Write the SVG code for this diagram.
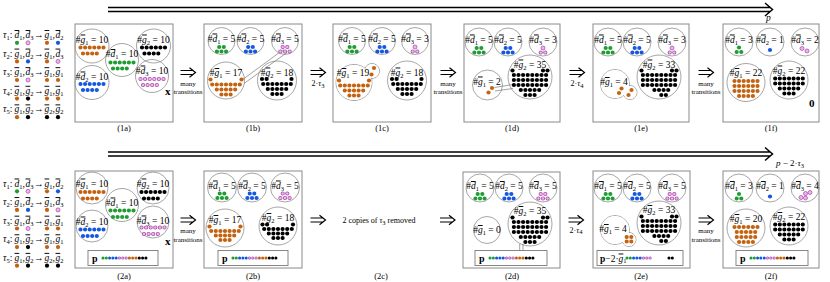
<svg xmlns="http://www.w3.org/2000/svg" width="830" height="282" viewBox="0 0 830 282">
<style>
.bx{fill:#fff;stroke:#8a8a8a;stroke-width:1}
.pb{fill:#fff;stroke:#7a7a7a;stroke-width:.9}
.c{fill:none;stroke:#8f8f8f;stroke-width:.8}
.wf{fill:#fff}
.ln{fill:none;stroke:#7a7a7a;stroke-width:.7}
text{font-family:"Liberation Serif",serif;fill:#000}
.t{font-size:9.5px;text-anchor:middle}
.lg{font-size:9.5px}
.sm{font-size:7px;text-anchor:middle}
.tl{font-size:8px;text-anchor:middle}
.lb{font-size:8.5px;text-anchor:middle}
.i{font-style:italic}
.ov{font-style:italic;text-decoration:overline}
.s{font-size:6.5px}
.bo{font-weight:bold;font-size:11px}
.d{fill:none;stroke-linecap:round;stroke-dasharray:0 4.6;stroke-width:4.2}
.q{fill:none;stroke-linecap:round;stroke-dasharray:0 3.3;stroke-width:3.1}
.G{stroke:#1f9d33}.B{stroke:#1657e0}.O{stroke:#c5620f}.K{stroke:#000}.P{stroke:#a84ca8}
.Pi{stroke:#f0b4f0}.d.Pi{stroke-width:2.6}.q.Pi{stroke-width:1.7}
.fG{fill:#1f9d33}.fB{fill:#1657e0}.fO{fill:#c5620f}.fK{fill:#000}.fP{fill:#f0b4f0;stroke:#a84ca8;stroke-width:.75}
.ar{fill:none;stroke:#000;stroke-width:1.5}
.im{fill:none;stroke:#000;stroke-width:1.2}
</style>
<defs>
<g id="imp"><path class="im" d="M-7.5 -2H5M-7.5 2H5M1.5 -4.8L7.5 0L1.5 4.8"/></g>
</defs>

<g id="legend1">
<text class="lg"><tspan x="3" y="38" class="i">τ</tspan><tspan y="40" class="s">1</tspan><tspan y="38">:</tspan><tspan x="14.5" class="ov">d</tspan><tspan y="40" class="s">1</tspan><tspan y="38">,</tspan><tspan x="25.5" class="ov">d</tspan><tspan y="40" class="s">3</tspan><tspan x="34" y="38">→</tspan><tspan x="44.5" class="ov">g</tspan><tspan y="40" class="s">1</tspan><tspan y="38">,</tspan><tspan x="55.5" class="ov">d</tspan><tspan y="40" class="s">2</tspan></text>
<text class="lg"><tspan x="3" y="56.6" class="i">τ</tspan><tspan y="58.6" class="s">2</tspan><tspan y="56.6">:</tspan><tspan x="14.5" class="ov">g</tspan><tspan y="58.6" class="s">1</tspan><tspan y="56.6">,</tspan><tspan x="25.5" class="ov">d</tspan><tspan y="58.6" class="s">2</tspan><tspan x="34" y="56.6">→</tspan><tspan x="44.5" class="ov">g</tspan><tspan y="58.6" class="s">1</tspan><tspan y="56.6">,</tspan><tspan x="55.5" class="ov">d</tspan><tspan y="58.6" class="s">3</tspan></text>
<text class="lg"><tspan x="3" y="75.2" class="i">τ</tspan><tspan y="77.2" class="s">3</tspan><tspan y="75.2">:</tspan><tspan x="14.5" class="ov">g</tspan><tspan y="77.2" class="s">1</tspan><tspan y="75.2">,</tspan><tspan x="25.5" class="ov">d</tspan><tspan y="77.2" class="s">3</tspan><tspan x="34" y="75.2">→</tspan><tspan x="44.5" class="ov">g</tspan><tspan y="77.2" class="s">1</tspan><tspan y="75.2">,</tspan><tspan x="55.5" class="ov">g</tspan><tspan y="77.2" class="s">1</tspan></text>
<text class="lg"><tspan x="3" y="93.8" class="i">τ</tspan><tspan y="95.8" class="s">4</tspan><tspan y="93.8">:</tspan><tspan x="14.5" class="ov">g</tspan><tspan y="95.8" class="s">1</tspan><tspan y="93.8">,</tspan><tspan x="25.5" class="ov">g</tspan><tspan y="95.8" class="s">2</tspan><tspan x="34" y="93.8">→</tspan><tspan x="44.5" class="ov">g</tspan><tspan y="95.8" class="s">1</tspan><tspan y="93.8">,</tspan><tspan x="55.5" class="ov">g</tspan><tspan y="95.8" class="s">1</tspan></text>
<text class="lg"><tspan x="3" y="112.4" class="i">τ</tspan><tspan y="114.4" class="s">5</tspan><tspan y="112.4">:</tspan><tspan x="14.5" class="ov">g</tspan><tspan y="114.4" class="s">1</tspan><tspan y="112.4">,</tspan><tspan x="25.5" class="ov">g</tspan><tspan y="114.4" class="s">2</tspan><tspan x="34" y="112.4">→</tspan><tspan x="44.5" class="ov">g</tspan><tspan y="114.4" class="s">2</tspan><tspan y="112.4">,</tspan><tspan x="55.5" class="ov">g</tspan><tspan y="114.4" class="s">2</tspan></text>
<circle class="fG" cx="17" cy="42.8" r="2.1"/><circle class="fP" cx="28" cy="42.8" r="2"/><circle class="fO" cx="47" cy="42.8" r="2.1"/><circle class="fB" cx="58" cy="42.8" r="2.1"/>
<circle class="fO" cx="17" cy="61.4" r="2.1"/><circle class="fB" cx="28" cy="61.4" r="2.1"/><circle class="fO" cx="47" cy="61.4" r="2.1"/><circle class="fP" cx="58" cy="61.4" r="2"/>
<circle class="fO" cx="17" cy="80" r="2.1"/><circle class="fP" cx="28" cy="80" r="2"/><circle class="fO" cx="47" cy="80" r="2.1"/><circle class="fO" cx="58" cy="80" r="2.1"/>
<circle class="fO" cx="17" cy="98.6" r="2.1"/><circle class="fK" cx="28" cy="98.6" r="2.1"/><circle class="fO" cx="47" cy="98.6" r="2.1"/><circle class="fO" cx="58" cy="98.6" r="2.1"/>
<circle class="fO" cx="17" cy="117.2" r="2.1"/><circle class="fK" cx="28" cy="117.2" r="2.1"/><circle class="fK" cx="47" cy="117.2" r="2.1"/><circle class="fK" cx="58" cy="117.2" r="2.1"/>
</g>

<g id="legend2">
<text class="lg"><tspan x="3" y="186.5" class="i">τ</tspan><tspan y="188.5" class="s">1</tspan><tspan y="186.5">:</tspan><tspan x="14.5" class="ov">d</tspan><tspan y="188.5" class="s">1</tspan><tspan y="186.5">,</tspan><tspan x="25.5" class="ov">d</tspan><tspan y="188.5" class="s">3</tspan><tspan x="34" y="186.5">→</tspan><tspan x="44.5" class="ov">g</tspan><tspan y="188.5" class="s">1</tspan><tspan y="186.5">,</tspan><tspan x="55.5" class="ov">d</tspan><tspan y="188.5" class="s">2</tspan></text>
<text class="lg"><tspan x="3" y="205.1" class="i">τ</tspan><tspan y="207.1" class="s">2</tspan><tspan y="205.1">:</tspan><tspan x="14.5" class="ov">g</tspan><tspan y="207.1" class="s">1</tspan><tspan y="205.1">,</tspan><tspan x="25.5" class="ov">d</tspan><tspan y="207.1" class="s">2</tspan><tspan x="34" y="205.1">→</tspan><tspan x="44.5" class="ov">g</tspan><tspan y="207.1" class="s">1</tspan><tspan y="205.1">,</tspan><tspan x="55.5" class="ov">d</tspan><tspan y="207.1" class="s">3</tspan></text>
<text class="lg"><tspan x="3" y="223.7" class="i">τ</tspan><tspan y="225.7" class="s">3</tspan><tspan y="223.7">:</tspan><tspan x="14.5" class="ov">g</tspan><tspan y="225.7" class="s">1</tspan><tspan y="223.7">,</tspan><tspan x="25.5" class="ov">d</tspan><tspan y="225.7" class="s">3</tspan><tspan x="34" y="223.7">→</tspan><tspan x="44.5" class="ov">g</tspan><tspan y="225.7" class="s">1</tspan><tspan y="223.7">,</tspan><tspan x="55.5" class="ov">g</tspan><tspan y="225.7" class="s">1</tspan></text>
<text class="lg"><tspan x="3" y="242.3" class="i">τ</tspan><tspan y="244.3" class="s">4</tspan><tspan y="242.3">:</tspan><tspan x="14.5" class="ov">g</tspan><tspan y="244.3" class="s">1</tspan><tspan y="242.3">,</tspan><tspan x="25.5" class="ov">g</tspan><tspan y="244.3" class="s">2</tspan><tspan x="34" y="242.3">→</tspan><tspan x="44.5" class="ov">g</tspan><tspan y="244.3" class="s">1</tspan><tspan y="242.3">,</tspan><tspan x="55.5" class="ov">g</tspan><tspan y="244.3" class="s">1</tspan></text>
<text class="lg"><tspan x="3" y="260.9" class="i">τ</tspan><tspan y="262.9" class="s">5</tspan><tspan y="260.9">:</tspan><tspan x="14.5" class="ov">g</tspan><tspan y="262.9" class="s">1</tspan><tspan y="260.9">,</tspan><tspan x="25.5" class="ov">g</tspan><tspan y="262.9" class="s">2</tspan><tspan x="34" y="260.9">→</tspan><tspan x="44.5" class="ov">g</tspan><tspan y="262.9" class="s">2</tspan><tspan y="260.9">,</tspan><tspan x="55.5" class="ov">g</tspan><tspan y="262.9" class="s">2</tspan></text>
<circle class="fG" cx="17" cy="191.3" r="2.1"/><circle class="fP" cx="28" cy="191.3" r="2"/><circle class="fO" cx="47" cy="191.3" r="2.1"/><circle class="fB" cx="58" cy="191.3" r="2.1"/>
<circle class="fO" cx="17" cy="209.9" r="2.1"/><circle class="fB" cx="28" cy="209.9" r="2.1"/><circle class="fO" cx="47" cy="209.9" r="2.1"/><circle class="fP" cx="58" cy="209.9" r="2"/>
<circle class="fO" cx="17" cy="228.5" r="2.1"/><circle class="fP" cx="28" cy="228.5" r="2"/><circle class="fO" cx="47" cy="228.5" r="2.1"/><circle class="fO" cx="58" cy="228.5" r="2.1"/>
<circle class="fO" cx="17" cy="247.1" r="2.1"/><circle class="fK" cx="28" cy="247.1" r="2.1"/><circle class="fO" cx="47" cy="247.1" r="2.1"/><circle class="fO" cx="58" cy="247.1" r="2.1"/>
<circle class="fO" cx="17" cy="265.7" r="2.1"/><circle class="fK" cx="28" cy="265.7" r="2.1"/><circle class="fK" cx="47" cy="265.7" r="2.1"/><circle class="fK" cx="58" cy="265.7" r="2.1"/>
</g>

<g id="n1a">
<rect class="bx" x="75" y="24" width="98" height="98"/>
<circle class="c" cx="92" cy="46" r="17"/><circle class="c" cx="153.5" cy="46" r="17"/><circle class="c" cx="122" cy="60" r="16.5"/><circle class="c" cx="92" cy="82.5" r="17"/><circle class="c" cx="152" cy="76" r="16.5"/>
<text class="t" x="92" y="42.5">#<tspan class="ov">g</tspan><tspan class="s" dy="2">1</tspan><tspan dy="-2"> = 10</tspan></text>
<text class="t" x="153.5" y="42.5">#<tspan class="ov">g</tspan><tspan class="s" dy="2">2</tspan><tspan dy="-2"> = 10</tspan></text>
<text class="t" x="122" y="57">#<tspan class="ov">d</tspan><tspan class="s" dy="2">1</tspan><tspan dy="-2"> = 10</tspan></text>
<text class="t" x="92" y="79.5">#<tspan class="ov">d</tspan><tspan class="s" dy="2">2</tspan><tspan dy="-2"> = 10</tspan></text>
<text class="t" x="152" y="73.5">#<tspan class="ov">d</tspan><tspan class="s" dy="2">3</tspan><tspan dy="-2"> = 10</tspan></text>
<path class="d O" d="M80.5 47.5h23.05M83 53.5h13.85"/>
<path class="d K" d="M142 47.5h23.05M144.5 53.5h13.85"/>
<path class="d G" d="M110.5 62.5h23.05M113 68.5h13.85"/>
<path class="d B" d="M80.5 84h23.05M83 90h13.85"/>
<path class="d P" d="M140.5 79h23.05M143 85h13.85"/><path class="d Pi" d="M140.5 79h23.05M143 85h13.85"/>
<text class="bo" x="165" y="95">x</text>
<text class="lb" x="124" y="131">(1a)</text>
</g>

<g id="n1b">
<rect class="bx" x="204" y="24" width="98" height="98"/>
<circle class="c" cx="221.5" cy="41" r="13.5"/><circle class="c" cx="250.5" cy="41" r="13.5"/><circle class="c" cx="285" cy="41" r="13.5"/><circle class="c" cx="226" cy="80.5" r="18.5"/><circle class="c" cx="277" cy="80.5" r="19.5"/>
<path class="ln" d="M242 80L283.5 49.5M244 83.5L287 52.5"/>
<text class="t" x="221.5" y="41.5">#<tspan class="ov">d</tspan><tspan class="s" dy="2">1</tspan><tspan dy="-2"> = 5</tspan></text>
<text class="t" x="250.5" y="41.5">#<tspan class="ov">d</tspan><tspan class="s" dy="2">2</tspan><tspan dy="-2"> = 5</tspan></text>
<text class="t" x="285" y="41.5">#<tspan class="ov">d</tspan><tspan class="s" dy="2">3</tspan><tspan dy="-2"> = 5</tspan></text>
<text class="t" x="226" y="76">#<tspan class="ov">g</tspan><tspan class="s" dy="2">1</tspan><tspan dy="-2"> = 17</tspan></text>
<text class="t" x="277" y="75.5">#<tspan class="ov">g</tspan><tspan class="s" dy="2">2</tspan><tspan dy="-2"> = 18</tspan></text>
<path class="d G" d="M219.2 47h4.65M216.9 51.5h9.25"/>
<path class="d B" d="M248.2 47h4.65M245.9 51.5h9.25"/>
<path class="d P" d="M282.7 47h4.65M280.4 51.5h9.25"/><path class="d Pi" d="M282.7 47h4.65M280.4 51.5h9.25"/>
<circle class="fO" cx="210.5" cy="79.5" r="2.1"/><circle class="fO" cx="241.5" cy="79.5" r="2.1"/>
<path class="d O" d="M212.2 84.5h27.65M216.8 89.5h18.45M221.4 94.5h9.25"/>
<circle class="fK" cx="262" cy="79" r="2.1"/><circle class="fK" cx="266.6" cy="79" r="2.1"/><circle class="fK" cx="291.5" cy="79" r="2.1"/>
<path class="d K" d="M263.2 84h27.65M267.8 89h18.45M272.4 94h9.25"/>
<text class="lb" x="253" y="131">(1b)</text>
</g>

<g id="n1c">
<rect class="bx" x="333" y="24" width="98" height="98"/>
<circle class="c" cx="352" cy="41" r="13.5"/><circle class="c" cx="382" cy="41" r="13.5"/><circle class="c" cx="415" cy="41" r="13.5"/><circle class="c" cx="407" cy="80.5" r="19.5"/>
<circle class="c" cx="354" cy="82.5" r="18"/><circle class="c" cx="372" cy="71" r="7.5"/><circle class="wf" cx="354" cy="82.5" r="17.6"/><circle class="wf" cx="372" cy="71" r="7.1"/>
<text class="t" x="352" y="41.5">#<tspan class="ov">d</tspan><tspan class="s" dy="2">1</tspan><tspan dy="-2"> = 5</tspan></text>
<text class="t" x="382" y="41.5">#<tspan class="ov">d</tspan><tspan class="s" dy="2">2</tspan><tspan dy="-2"> = 5</tspan></text>
<text class="t" x="415" y="41.5">#<tspan class="ov">d</tspan><tspan class="s" dy="2">3</tspan><tspan dy="-2"> = 3</tspan></text>
<text class="t" x="353" y="76">#<tspan class="ov">g</tspan><tspan class="s" dy="2">1</tspan><tspan dy="-2"> = 19</tspan></text>
<text class="t" x="407" y="75.5">#<tspan class="ov">g</tspan><tspan class="s" dy="2">2</tspan><tspan dy="-2"> = 18</tspan></text>
<path class="d G" d="M349.7 47h4.65M347.4 51.5h9.25"/>
<path class="d B" d="M379.7 47h4.65M377.4 51.5h9.25"/>
<circle class="fP" cx="415" cy="47" r="2"/><path class="d P" d="M412.7 51.5h4.65"/><path class="d Pi" d="M412.7 51.5h4.65"/>
<circle class="fO" cx="374" cy="68" r="2.1"/><circle class="fO" cx="371.5" cy="74.5" r="2.1"/><circle class="fO" cx="339" cy="80.5" r="2.1"/><circle class="fO" cx="369" cy="80.5" r="2.1"/>
<path class="d O" d="M340.2 85.5h27.65M344.8 90.5h18.45M349.4 95.5h9.25"/>
<circle class="fK" cx="392" cy="79" r="2.1"/><circle class="fK" cx="396.6" cy="79" r="2.1"/><circle class="fK" cx="421.5" cy="79" r="2.1"/>
<path class="d K" d="M393.2 84h27.65M397.8 89h18.45M402.4 94h9.25"/>
<text class="lb" x="382" y="131">(1c)</text>
</g>

<g id="n1d">
<rect class="bx" x="464" y="24" width="96" height="98"/>
<circle class="c" cx="479" cy="42" r="14"/><circle class="c" cx="508" cy="42" r="14"/><circle class="c" cx="543" cy="42" r="14"/><circle class="c" cx="487.5" cy="85" r="15"/><circle class="c" cx="530" cy="77" r="22"/>
<path class="ln" d="M494.5 87.5L513 84.5M495 91L513 88.5"/>
<text class="t" x="479" y="42.5">#<tspan class="ov">d</tspan><tspan class="s" dy="2">1</tspan><tspan dy="-2"> = 5</tspan></text>
<text class="t" x="508" y="42.5">#<tspan class="ov">d</tspan><tspan class="s" dy="2">2</tspan><tspan dy="-2"> = 5</tspan></text>
<text class="t" x="543" y="42.5">#<tspan class="ov">d</tspan><tspan class="s" dy="2">3</tspan><tspan dy="-2"> = 3</tspan></text>
<text class="t" x="487" y="84.5">#<tspan class="ov">g</tspan><tspan class="s" dy="2">1</tspan><tspan dy="-2"> = 2</tspan></text>
<text class="t" x="530" y="67.5">#<tspan class="ov">g</tspan><tspan class="s" dy="2">2</tspan><tspan dy="-2"> = 35</tspan></text>
<path class="d G" d="M476.7 48h4.65M474.4 52.5h9.25"/>
<path class="d B" d="M505.7 48h4.65M503.4 52.5h9.25"/>
<circle class="fP" cx="543" cy="48" r="2"/><path class="d P" d="M540.7 52.5h4.65"/><path class="d Pi" d="M540.7 52.5h4.65"/>
<circle class="fO" cx="492" cy="88" r="2.1"/><circle class="fO" cx="488.5" cy="92.5" r="2.1"/>
<circle class="fK" cx="512.5" cy="70.5" r="2.1"/><circle class="fK" cx="543" cy="70.5" r="2.1"/><circle class="fK" cx="547.5" cy="70.5" r="2.1"/>
<path class="d K" d="M513.9 75h32.25M513.9 80h32.25M513.9 85h32.25M520.8 90h18.45M525.4 95h9.25"/>
<text class="lb" x="512" y="131">(1d)</text>
</g>

<g id="n1e">
<rect class="bx" x="593" y="24" width="96" height="98"/>
<circle class="c" cx="608" cy="42" r="14"/><circle class="c" cx="637" cy="42" r="14"/><circle class="c" cx="672" cy="42" r="14"/><circle class="c" cx="659" cy="77" r="22"/>
<circle class="c" cx="615" cy="84" r="14.5"/><circle class="c" cx="630" cy="92.5" r="7"/><circle class="wf" cx="615" cy="84" r="14.1"/><circle class="wf" cx="630" cy="92.5" r="6.6"/>
<text class="t" x="608" y="42.5">#<tspan class="ov">d</tspan><tspan class="s" dy="2">1</tspan><tspan dy="-2"> = 5</tspan></text>
<text class="t" x="637" y="42.5">#<tspan class="ov">d</tspan><tspan class="s" dy="2">2</tspan><tspan dy="-2"> = 5</tspan></text>
<text class="t" x="672" y="42.5">#<tspan class="ov">d</tspan><tspan class="s" dy="2">3</tspan><tspan dy="-2"> = 3</tspan></text>
<text class="t" x="614" y="85">#<tspan class="ov">g</tspan><tspan class="s" dy="2">1</tspan><tspan dy="-2"> = 4</tspan></text>
<text class="t" x="659" y="67.5">#<tspan class="ov">g</tspan><tspan class="s" dy="2">2</tspan><tspan dy="-2"> = 33</tspan></text>
<path class="d G" d="M605.7 48h4.65M603.4 52.5h9.25"/>
<path class="d B" d="M634.7 48h4.65M632.4 52.5h9.25"/>
<circle class="fP" cx="672" cy="48" r="2"/><path class="d P" d="M669.7 52.5h4.65"/><path class="d Pi" d="M669.7 52.5h4.65"/>
<circle class="fO" cx="621.5" cy="88.5" r="2.1"/><circle class="fO" cx="619" cy="93" r="2.1"/><circle class="fO" cx="631.5" cy="90" r="2.1"/><circle class="fO" cx="628.5" cy="95" r="2.1"/>
<circle class="fK" cx="641.5" cy="70.5" r="2.1"/><circle class="fK" cx="672" cy="70.5" r="2.1"/><circle class="fK" cx="676.5" cy="70.5" r="2.1"/>
<path class="d K" d="M642.9 75h32.25M642.9 80h32.25M642.9 85h32.25M654.4 90h13.85M661.3 95h4.65"/>
<text class="lb" x="641" y="131">(1e)</text>
</g>

<g id="n1f">
<rect class="bx" x="723" y="24" width="96" height="98"/>
<circle class="c" cx="739" cy="42" r="14"/><circle class="c" cx="770" cy="42" r="14"/><circle class="c" cx="805" cy="42" r="14"/><circle class="c" cx="746" cy="82.5" r="19"/><circle class="c" cx="789" cy="80" r="19"/>
<text class="t" x="739" y="42.5">#<tspan class="ov">d</tspan><tspan class="s" dy="2">1</tspan><tspan dy="-2"> = 3</tspan></text>
<text class="t" x="770" y="42.5">#<tspan class="ov">d</tspan><tspan class="s" dy="2">2</tspan><tspan dy="-2"> = 1</tspan></text>
<text class="t" x="805" y="42.5">#<tspan class="ov">d</tspan><tspan class="s" dy="2">3</tspan><tspan dy="-2"> = 2</tspan></text>
<text class="t" x="746" y="76">#<tspan class="ov">g</tspan><tspan class="s" dy="2">1</tspan><tspan dy="-2"> = 22</tspan></text>
<text class="t" x="789" y="73.5">#<tspan class="ov">g</tspan><tspan class="s" dy="2">2</tspan><tspan dy="-2"> = 22</tspan></text>
<circle class="fG" cx="739" cy="47.5" r="2.1"/><path class="d G" d="M736.7 52h4.65"/>
<circle class="fB" cx="770" cy="50" r="2.1"/>
<circle class="fP" cx="802" cy="48.5" r="2"/><circle class="fP" cx="807" cy="51" r="2"/>
<path class="d O" d="M734.5 81h23.05M734.5 86h23.05M734.5 91h23.05M739.1 96h13.85"/>
<path class="d K" d="M775.2 78.5h27.65M775.2 83.5h27.65M779.8 88.5h18.45M784.4 93.5h9.25"/>
<text class="bo" x="809" y="107">0</text>
<text class="lb" x="771" y="131">(1f)</text>
</g>

<g id="n2a">
<rect class="bx" x="75" y="171" width="98" height="97"/>
<circle class="c" cx="92" cy="188" r="16"/><circle class="c" cx="153" cy="188" r="16"/><circle class="c" cx="122" cy="205" r="16.5"/><circle class="c" cx="92" cy="226" r="16"/><circle class="c" cx="153" cy="222" r="16"/>
<text class="t" x="92" y="186.5">#<tspan class="ov">g</tspan><tspan class="s" dy="2">1</tspan><tspan dy="-2"> = 10</tspan></text>
<text class="t" x="153" y="186.5">#<tspan class="ov">g</tspan><tspan class="s" dy="2">2</tspan><tspan dy="-2"> = 10</tspan></text>
<text class="t" x="122" y="205.5">#<tspan class="ov">d</tspan><tspan class="s" dy="2">1</tspan><tspan dy="-2"> = 10</tspan></text>
<text class="t" x="92" y="224.5">#<tspan class="ov">d</tspan><tspan class="s" dy="2">2</tspan><tspan dy="-2"> = 10</tspan></text>
<text class="t" x="153" y="223.5">#<tspan class="ov">d</tspan><tspan class="s" dy="2">3</tspan><tspan dy="-2"> = 10</tspan></text>
<path class="d O" d="M80.5 192h23.05M83 198.5h13.85"/>
<path class="d K" d="M141.5 192h23.05M144 198.5h13.85"/>
<path class="d G" d="M110.5 210.5h23.05M113 217h13.85"/>
<path class="d B" d="M80.5 229.5h23.05M83 236h13.85"/>
<path class="d P" d="M141.5 227.5h23.05M144 234h13.85"/><path class="d Pi" d="M141.5 227.5h23.05M144 234h13.85"/>
<text class="bo" x="165" y="245">x</text>
<rect class="pb" x="88" y="250.5" width="70" height="15"/>
<text class="bo" x="92" y="261.5" style="font-size:10px">p</text>
<path class="q G" d="M103 258h3.35"/><path class="q B" d="M109.6 258h6.65"/><path class="q P" d="M119.5 258h6.65"/><path class="q Pi" d="M119.5 258h6.65"/><path class="q O" d="M129.4 258h6.65"/><path class="q K" d="M139.3 258h6.65"/>
<text class="lb" x="124" y="279">(2a)</text>
</g>

<g id="n2b">
<rect class="bx" x="204" y="171" width="98" height="97"/>
<circle class="c" cx="222" cy="187.5" r="14.5"/><circle class="c" cx="252" cy="187.5" r="14.5"/><circle class="c" cx="285" cy="187.5" r="14.5"/><circle class="c" cx="225" cy="228" r="19"/><circle class="c" cx="278" cy="226" r="19"/>
<text class="t" x="222" y="188.5">#<tspan class="ov">d</tspan><tspan class="s" dy="2">1</tspan><tspan dy="-2"> = 5</tspan></text>
<text class="t" x="252" y="188.5">#<tspan class="ov">d</tspan><tspan class="s" dy="2">2</tspan><tspan dy="-2"> = 5</tspan></text>
<text class="t" x="285" y="188.5">#<tspan class="ov">d</tspan><tspan class="s" dy="2">3</tspan><tspan dy="-2"> = 5</tspan></text>
<text class="t" x="225" y="223">#<tspan class="ov">g</tspan><tspan class="s" dy="2">1</tspan><tspan dy="-2"> = 17</tspan></text>
<text class="t" x="278" y="221">#<tspan class="ov">g</tspan><tspan class="s" dy="2">2</tspan><tspan dy="-2"> = 18</tspan></text>
<path class="d G" d="M219.7 193.5h4.65M217.4 198h9.25"/>
<path class="d B" d="M249.7 193.5h4.65M247.4 198h9.25"/>
<path class="d P" d="M282.7 193.5h4.65M280.4 198h9.25"/><path class="d Pi" d="M282.7 193.5h4.65M280.4 198h9.25"/>
<circle class="fO" cx="209.5" cy="226.5" r="2.1"/><circle class="fO" cx="240.5" cy="226.5" r="2.1"/>
<path class="d O" d="M211.2 231h27.65M215.8 235.5h18.45M220.4 240h9.25"/>
<circle class="fK" cx="262.5" cy="224.5" r="2.1"/><circle class="fK" cx="267.1" cy="224.5" r="2.1"/><circle class="fK" cx="293" cy="224.5" r="2.1"/>
<path class="d K" d="M264.2 229h27.65M268.8 233.5h18.45M273.4 238h9.25"/>
<rect class="pb" x="218" y="250.5" width="70" height="15"/>
<text class="bo" x="222" y="261.5" style="font-size:10px">p</text>
<path class="q G" d="M233 258h3.35"/><path class="q B" d="M239.6 258h6.65"/><path class="q P" d="M249.5 258h6.65"/><path class="q Pi" d="M249.5 258h6.65"/><path class="q O" d="M259.4 258h6.65"/><path class="q K" d="M269.3 258h6.65"/>
<text class="lb" x="253" y="279">(2b)</text>
</g>

<g id="n2c">
<text class="tl" x="379" y="223">2 copies of <tspan class="i">τ</tspan><tspan class="s" dy="1.5">3</tspan><tspan dy="-1.5"> removed</tspan></text>
<text class="lb" x="381" y="279">(2c)</text>
</g>

<g id="n2d">
<rect class="bx" x="463" y="172" width="97" height="96"/>
<circle class="c" cx="480" cy="188" r="14"/><circle class="c" cx="509" cy="188" r="14"/><circle class="c" cx="543" cy="188" r="14"/><circle class="c" cx="487" cy="230" r="13.5"/><circle class="c" cx="530" cy="224" r="22"/>
<text class="t" x="480" y="189">#<tspan class="ov">d</tspan><tspan class="s" dy="2">1</tspan><tspan dy="-2"> = 5</tspan></text>
<text class="t" x="509" y="189">#<tspan class="ov">d</tspan><tspan class="s" dy="2">2</tspan><tspan dy="-2"> = 5</tspan></text>
<text class="t" x="543" y="189">#<tspan class="ov">d</tspan><tspan class="s" dy="2">3</tspan><tspan dy="-2"> = 5</tspan></text>
<text class="t" x="487" y="233">#<tspan class="ov">g</tspan><tspan class="s" dy="2">1</tspan><tspan dy="-2"> = 0</tspan></text>
<text class="t" x="530" y="214">#<tspan class="ov">g</tspan><tspan class="s" dy="2">2</tspan><tspan dy="-2"> = 35</tspan></text>
<path class="d G" d="M477.7 194h4.65M475.4 198.5h9.25"/>
<path class="d B" d="M506.7 194h4.65M504.4 198.5h9.25"/>
<path class="d P" d="M540.7 194h4.65M538.4 198.5h9.25"/><path class="d Pi" d="M540.7 194h4.65M538.4 198.5h9.25"/>
<circle class="fK" cx="512.5" cy="217.5" r="2.1"/><circle class="fK" cx="543" cy="217.5" r="2.1"/><circle class="fK" cx="547.5" cy="217.5" r="2.1"/>
<path class="d K" d="M513.9 222h32.25M513.9 227h32.25M513.9 232h32.25M520.8 237h18.45M525.4 242h9.25"/>
<path class="ln" d="M519.7 244V256M523 244V256"/>
<rect class="pb" x="475" y="250.5" width="72" height="15"/>
<text class="bo" x="479" y="261.5" style="font-size:10px">p</text>
<path class="q G" d="M490 258h3.35"/><path class="q B" d="M496.6 258h6.65"/><path class="q P" d="M506.5 258h6.65"/><path class="q Pi" d="M506.5 258h6.65"/><path class="q O" d="M516.4 258h6.65"/><path class="q K" d="M526.3 258h6.65"/>
<text class="lb" x="512" y="279">(2d)</text>
</g>

<g id="n2e">
<rect class="bx" x="593" y="171" width="97" height="97"/>
<circle class="c" cx="608" cy="188" r="14"/><circle class="c" cx="637" cy="188" r="14"/><circle class="c" cx="672" cy="188" r="14"/><circle class="c" cx="659" cy="223" r="22"/>
<circle class="c" cx="615" cy="230" r="14.5"/><circle class="c" cx="629" cy="239.5" r="7"/><circle class="wf" cx="615" cy="230" r="14.1"/><circle class="wf" cx="629" cy="239.5" r="6.6"/>
<text class="t" x="608" y="189">#<tspan class="ov">d</tspan><tspan class="s" dy="2">1</tspan><tspan dy="-2"> = 5</tspan></text>
<text class="t" x="637" y="189">#<tspan class="ov">d</tspan><tspan class="s" dy="2">2</tspan><tspan dy="-2"> = 5</tspan></text>
<text class="t" x="672" y="189">#<tspan class="ov">d</tspan><tspan class="s" dy="2">3</tspan><tspan dy="-2"> = 5</tspan></text>
<text class="t" x="613" y="232">#<tspan class="ov">g</tspan><tspan class="s" dy="2">1</tspan><tspan dy="-2"> = 4</tspan></text>
<text class="t" x="659" y="213">#<tspan class="ov">g</tspan><tspan class="s" dy="2">2</tspan><tspan dy="-2"> = 33</tspan></text>
<path class="d G" d="M605.7 194h4.65M603.4 198.5h9.25"/>
<path class="d B" d="M634.7 194h4.65M632.4 198.5h9.25"/>
<path class="d P" d="M669.7 194h4.65M667.4 198.5h9.25"/><path class="d Pi" d="M669.7 194h4.65M667.4 198.5h9.25"/>
<path class="d O" d="M626.7 237h4.65M626.7 241.5h4.65"/>
<circle class="fK" cx="641.5" cy="216.5" r="2.1"/><circle class="fK" cx="672" cy="216.5" r="2.1"/><circle class="fK" cx="676.5" cy="216.5" r="2.1"/>
<path class="d K" d="M642.9 221h32.25M642.9 226h32.25M642.9 231h32.25M654.4 236h13.85M661.3 241h4.65"/>
<rect class="pb" x="597" y="250.5" width="86" height="15"/>
<text x="600" y="261.5" style="font-size:9.5px"><tspan font-weight="bold">p</tspan>−2·<tspan class="ov">g</tspan><tspan class="s" dy="1.5">1</tspan></text>
<path class="q G" d="M627 258h3.35"/><path class="q B" d="M633.6 258h6.65"/><path class="q P" d="M643.5 258h6.65"/><path class="q Pi" d="M643.5 258h6.65"/><path class="q K" d="M669 258h3.35"/>
<text class="lb" x="641" y="279">(2e)</text>
</g>

<g id="n2f">
<rect class="bx" x="723" y="171" width="96" height="97"/>
<circle class="c" cx="739" cy="188" r="14"/><circle class="c" cx="770" cy="188" r="14"/><circle class="c" cx="805" cy="188" r="14"/><circle class="c" cx="746" cy="228" r="19"/><circle class="c" cx="789" cy="226" r="19"/>
<text class="t" x="739" y="189">#<tspan class="ov">d</tspan><tspan class="s" dy="2">1</tspan><tspan dy="-2"> = 3</tspan></text>
<text class="t" x="770" y="189">#<tspan class="ov">d</tspan><tspan class="s" dy="2">2</tspan><tspan dy="-2"> = 1</tspan></text>
<text class="t" x="805" y="189">#<tspan class="ov">d</tspan><tspan class="s" dy="2">3</tspan><tspan dy="-2"> = 4</tspan></text>
<text class="t" x="746" y="222">#<tspan class="ov">g</tspan><tspan class="s" dy="2">1</tspan><tspan dy="-2"> = 20</tspan></text>
<text class="t" x="789" y="220">#<tspan class="ov">g</tspan><tspan class="s" dy="2">2</tspan><tspan dy="-2"> = 22</tspan></text>
<circle class="fG" cx="739" cy="194" r="2.1"/><path class="d G" d="M736.7 198.5h4.65"/>
<circle class="fB" cx="770" cy="196.5" r="2.1"/>
<circle class="fP" cx="805.5" cy="193.5" r="2"/><circle class="fP" cx="810" cy="192.5" r="2"/><circle class="fP" cx="801" cy="197.5" r="2"/><circle class="fP" cx="805.5" cy="198" r="2"/>
<path class="d O" d="M734.5 227h23.05M736.8 232h18.45M736.8 237h18.45M739.1 242h13.85"/>
<path class="d K" d="M775.2 224.5h27.65M775.2 229.5h27.65M779.8 234.5h18.45M784.4 239.5h9.25"/>
<rect class="pb" x="736" y="250.5" width="72" height="15"/>
<text class="bo" x="740" y="261.5" style="font-size:10px">p</text>
<path class="q G" d="M751 258h3.35"/><path class="q B" d="M757.6 258h6.65"/><path class="q P" d="M767.5 258h6.65"/><path class="q Pi" d="M767.5 258h6.65"/><path class="q O" d="M777.4 258h6.65"/><path class="q K" d="M787.3 258h6.65"/>
<text class="lb" x="771" y="279">(2f)</text>
</g>

<g id="connectors">
<path class="ar" d="M108 7.5H770M108 11.5H770M765 3L772.5 9.5L765 16"/>
<text x="766" y="21" class="i" style="font-size:9.5px">p</text>
<path class="ar" d="M108 152H770M108 156H770M765 147.5L772.5 154L765 160.5"/>
<text x="776" y="166" style="font-size:9px"><tspan class="i">p</tspan> − 2·<tspan class="i">τ</tspan><tspan class="s" dy="1.5">3</tspan></text>
<use href="#imp" x="188" y="72.5"/><use href="#imp" x="318" y="72.5"/><use href="#imp" x="448" y="72.5"/><use href="#imp" x="577" y="72.5"/><use href="#imp" x="706" y="72.5"/>
<text class="sm" x="188" y="85.5">many</text><text class="sm" x="188" y="94">transitions</text>
<text class="tl" x="318" y="86">2·<tspan class="i">τ</tspan><tspan class="s" dy="1.5">3</tspan></text>
<text class="sm" x="448" y="85.5">many</text><text class="sm" x="448" y="94">transitions</text>
<text class="tl" x="577" y="86">2·<tspan class="i">τ</tspan><tspan class="s" dy="1.5">4</tspan></text>
<text class="sm" x="706" y="85.5">many</text><text class="sm" x="706" y="94">transitions</text>
<use href="#imp" x="188" y="220"/><use href="#imp" x="318" y="220"/><use href="#imp" x="447.5" y="220"/><use href="#imp" x="576" y="220"/><use href="#imp" x="706" y="220"/>
<text class="sm" x="188" y="233">many</text><text class="sm" x="188" y="241.5">transitions</text>
<text class="tl" x="576" y="232.5">2·<tspan class="i">τ</tspan><tspan class="s" dy="1.5">4</tspan></text>
<text class="sm" x="706" y="233">many</text><text class="sm" x="706" y="241.5">transitions</text>
</g>
</svg>
